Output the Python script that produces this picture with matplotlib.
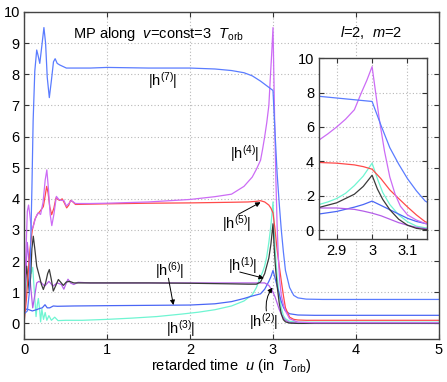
import matplotlib
matplotlib.use("Agg")
import matplotlib.pyplot as plt

plt.rcParams['font.family'] = ['Liberation Sans', 'DejaVu Sans']
plt.rcParams['mathtext.fontset'] = 'custom'
plt.rcParams['mathtext.rm'] = 'Liberation Sans'
plt.rcParams['mathtext.it'] = 'Liberation Sans:italic'

# ---- data (retarded time u in T_orb, |h^(k)|) ----
u7 = [0, 0.04, 0.065, 0.08, 0.095, 0.11, 0.13, 0.153, 0.17, 0.19, 0.21, 0.24, 0.26, 0.28, 0.305, 0.33, 0.355,
      0.375, 0.40, 0.43, 0.47, 0.51, 0.6, 0.8, 1.0, 1.5, 2.0, 2.3, 2.5, 2.65, 2.75, 2.85, 2.9, 2.95, 3.0,
      3.025, 3.05, 3.075, 3.1, 3.125, 3.15, 3.2, 3.25, 3.3, 3.4, 3.6, 5.0]
h7 = [0.3, 0.4, 1.0, 2.5, 4.3, 6.5, 8.1, 8.78, 8.6, 8.35, 8.8, 9.5, 9.0, 7.9, 7.25, 7.8, 8.4,
      8.5, 8.35, 8.3, 8.25, 8.2, 8.2, 8.2, 8.22, 8.2, 8.2, 8.17, 8.12, 8.05, 7.95, 7.78, 7.68, 7.58, 7.48,
      6.1, 4.8, 3.85, 3.0, 2.3, 1.7, 1.15, 0.9, 0.82, 0.78, 0.77, 0.77]

u4 = [0, 0.02, 0.04, 0.055, 0.07, 0.09, 0.11, 0.14, 0.17, 0.2, 0.23, 0.255, 0.275, 0.295, 0.315, 0.335,
      0.36, 0.39, 0.42, 0.45, 0.48, 0.51, 0.54, 0.57, 0.62, 0.8, 1.0, 1.5, 2.0, 2.3, 2.5, 2.65, 2.75, 2.8,
      2.85, 2.875, 2.9, 2.925, 2.95, 2.97, 2.985, 3.0, 3.01, 3.02, 3.035, 3.05, 3.065, 3.08, 3.1, 3.125,
      3.15, 3.2, 3.3, 3.5, 5.0]
h4 = [0, 2.0, 3.6, 3.8, 3.5, 3.0, 3.1, 3.4, 3.55, 3.5, 3.9, 4.6, 4.93, 4.3, 3.5, 3.14,
      3.5, 4.08, 3.98, 3.95, 3.95, 3.77, 3.85, 3.95, 3.85, 3.85, 3.86, 3.9, 3.98, 4.07, 4.15, 4.4, 4.7, 4.95,
      5.24, 5.6, 6.0, 6.45, 7.0, 8.0, 8.7, 9.5, 8.0, 6.5, 4.6, 3.1, 2.1, 1.4, 0.9, 0.6,
      0.4, 0.15, 0.04, 0.02, 0.02]

u5 = [0, 0.03, 0.05, 0.072, 0.1, 0.13, 0.16, 0.193, 0.233, 0.255, 0.273, 0.29, 0.31, 0.333, 0.36, 0.385,
      0.41, 0.43, 0.46, 0.49, 0.514, 0.54, 0.56, 0.59, 0.62, 0.8, 1.0, 1.5, 2.0, 2.5, 2.7, 2.8, 2.85, 2.9,
      2.95, 2.975, 3.0, 3.025, 3.05, 3.075, 3.1, 3.125, 3.15, 3.2, 3.25, 3.3, 3.4, 5.0]
h5 = [0, 0.8, 1.6, 2.37, 3.0, 3.33, 3.5, 3.6, 3.75, 4.1, 4.4, 4.2, 3.75, 3.49, 3.7, 4.03,
      3.98, 3.95, 4.0, 3.85, 3.71, 3.8, 3.95, 3.9, 3.82, 3.83, 3.84, 3.86, 3.87, 3.89, 3.9, 3.92, 3.94, 3.9,
      3.8, 3.7, 3.55, 3.0, 2.35, 1.85, 1.36, 0.9, 0.5, 0.2, 0.13, 0.11, 0.1, 0.1]

u1 = [0, 0.015, 0.032, 0.05, 0.064, 0.08, 0.095, 0.112, 0.13, 0.153, 0.185, 0.21, 0.233, 0.26, 0.285, 0.305,
      0.33, 0.353, 0.38, 0.414, 0.44, 0.474, 0.51, 0.55, 0.6, 0.8, 1.0, 1.5, 2.0, 2.5, 2.7, 2.8, 2.85, 2.9,
      2.95, 2.975, 3.0, 3.015, 3.03, 3.05, 3.075, 3.1, 3.125, 3.15, 3.2, 3.3, 5.0]
h1 = [0, 1.2, 1.84, 1.4, 1.0, 1.5, 2.4, 2.8, 2.4, 1.84, 1.52, 1.25, 1.09, 1.3, 1.6, 1.73,
      1.4, 1.04, 1.2, 1.41, 1.33, 1.22, 1.33, 1.35, 1.3, 1.3, 1.3, 1.3, 1.29, 1.27, 1.26, 1.26, 1.33, 1.6,
      2.1, 2.55, 3.2, 2.4, 1.8, 1.2, 0.65, 0.3, 0.12, 0.05, 0.01, 0.0, 0.0]

u6 = [0, 0.02, 0.04, 0.06, 0.08, 0.105, 0.13, 0.153, 0.18, 0.21, 0.25, 0.3, 0.35, 0.4, 0.45, 0.48, 0.51,
      0.53, 0.56, 0.6, 0.65, 0.8, 1.0, 1.5, 2.0, 2.5, 2.8, 2.85, 2.9, 2.95, 2.975, 3.0, 3.025, 3.05, 3.075,
      3.1, 3.125, 3.15, 3.2, 3.3, 5.0]
h6 = [0, 1.5, 2.6, 2.0, 1.2, 0.5, 0.9, 1.3, 1.35, 1.3, 1.2, 1.35, 1.2, 1.3, 1.25, 1.1, 1.3,
      1.42, 1.3, 1.25, 1.32, 1.3, 1.3, 1.3, 1.3, 1.3, 1.3, 1.3, 1.3, 1.22, 1.12, 1.0, 0.85, 0.65, 0.45,
      0.3, 0.18, 0.1, 0.03, 0.01, 0.0]

u2 = [0, 0.01, 0.03, 0.06, 0.1, 0.15, 0.19, 0.22, 0.253, 0.28, 0.31, 0.353, 0.4, 0.6, 1.0, 1.5, 2.0, 2.3,
      2.5, 2.65, 2.75, 2.85, 2.9, 2.95, 2.975, 3.0, 3.025, 3.05, 3.075, 3.1, 3.125, 3.15, 3.2, 3.3, 3.5, 5.0]
h2 = [0.3, 0.42, 0.46, 0.44, 0.4, 0.44, 0.48, 0.5, 0.6, 0.5, 0.5, 0.56, 0.55, 0.56, 0.57, 0.58, 0.59, 0.63,
      0.7, 0.8, 0.88, 0.95, 1.1, 1.35, 1.5, 1.7, 1.45, 1.2, 0.95, 0.7, 0.52, 0.4, 0.31, 0.27, 0.26, 0.26]

u3 = [0, 0.02, 0.04, 0.064, 0.085, 0.105, 0.12, 0.145, 0.16, 0.173, 0.19, 0.2, 0.215, 0.235, 0.255, 0.275,
      0.3, 0.33, 0.37, 0.41, 0.5, 0.7, 1.0, 1.3, 1.6, 1.9, 2.1, 2.3, 2.5, 2.65, 2.75, 2.8, 2.85, 2.875, 2.9,
      2.925, 2.95, 2.975, 3.0, 3.015, 3.03, 3.05, 3.075, 3.1, 3.125, 3.15, 3.2, 3.3, 5.0]
h3 = [0, 0.8, 1.5, 1.9, 1.6, 1.8, 1.2, 0.22, 0.6, 0.8, 0.4, 0.05, 0.46, 0.13, 0.35, 0.1,
      0.25, 0.1, 0.2, 0.09, 0.1, 0.1, 0.13, 0.17, 0.22, 0.3, 0.36, 0.44, 0.56, 0.72, 0.92, 1.15, 1.5, 1.65, 1.85,
      2.15, 2.6, 3.15, 3.9, 3.0, 2.2, 1.5, 0.9, 0.5, 0.25, 0.15, 0.07, 0.04, 0.04]

series = [
    (u3, h3, '#6ff5d2'),
    (u2, h2, '#4a66f5'),
    (u6, h6, '#b45ee8'),
    (u1, h1, '#3a3a3a'),
    (u5, h5, '#ff4a4a'),
    (u4, h4, '#cc6cf5'),
    (u7, h7, '#5a7cff'),
]

main_xticks = [0, 1, 2, 3, 4, 5]
main_yticks = list(range(0, 11))
inset_xticks = [2.9, 3.0, 3.1]
inset_xticklabels = ['2.9', '3', '3.1']
inset_yticks = [0, 2, 4, 6, 8, 10]

fig = plt.figure(figsize=(4.47, 3.82), dpi=100)
ax = fig.add_axes([0.0537, 0.1126, 0.9284, 0.856])
ins = fig.add_axes([0.7136, 0.3743, 0.2416, 0.4738])

grid_kw = dict(color='#b8b8b8', linestyle=(0, (1, 2)), linewidth=0.8)

for a in (ax, ins):
    for uu, hh, c in series:
        a.plot(uu, hh, color=c, lw=0.9)
    a.grid(True, **grid_kw)
    a.tick_params(direction='in', length=3.5, width=0.8, labelsize=10.5, top=True, right=True,
                  colors='#333333', labelcolor='black')
    for s in a.spines.values():
        s.set_color('#444444')
        s.set_linewidth(1.0)

ax.set_xlim(0, 5)
ax.set_ylim(-0.5, 10)
ax.set_xticks(main_xticks)
ax.set_yticks(main_yticks)
ax.tick_params(axis='both', pad=3)
ax.set_xlabel(r'retarded time  $u$ (in  $T_{\rm orb}$)', fontsize=10.5, labelpad=0)

ins.set_xlim(2.85, 3.155)
ins.set_ylim(-0.5, 10)
ins.set_xticks(inset_xticks)
ins.set_xticklabels(inset_xticklabels)
ins.set_yticks(inset_yticks)

fs = 10.5
ax.text(0.59, 9.3, r'MP along  $v$=const=3  $T_{\rm orb}$', fontsize=fs, va='center', ha='left')
ax.text(4.18, 9.33, r'$l$=2,  $m$=2', fontsize=fs, va='center', ha='center')

ax.text(1.67, 7.8, r'|h$^{(7)}$|', fontsize=fs, ha='center', va='center')
ax.text(2.66, 5.45, r'|h$^{(4)}$|', fontsize=fs, ha='center', va='center')
ax.text(2.56, 3.2, r'|h$^{(5)}$|', fontsize=fs, ha='center', va='center')
ax.text(2.63, 1.86, r'|h$^{(1)}$|', fontsize=fs, ha='center', va='center')
ax.text(2.89, 0.07, r'|h$^{(2)}$|', fontsize=fs, ha='center', va='center')
ax.text(1.76, 1.71, r'|h$^{(6)}$|', fontsize=fs, ha='center', va='center')
ax.text(1.89, -0.18, r'|h$^{(3)}$|', fontsize=fs, ha='center', va='center')

arrow_kw = dict(arrowstyle='-|>', color='black', lw=0.7, mutation_scale=7, shrinkA=0, shrinkB=0)
ax.annotate('', xy=(2.85, 3.89), xytext=(2.58, 3.5), arrowprops=arrow_kw)
ax.annotate('', xy=(2.89, 1.45), xytext=(2.6, 1.65), arrowprops=arrow_kw)
ax.annotate('', xy=(2.995, 1.15), xytext=(2.92, 0.4), arrowprops=dict(arrow_kw, connectionstyle='arc3,rad=-0.2'))
ax.annotate('', xy=(1.8, 0.59), xytext=(1.74, 1.45), arrowprops=arrow_kw)

fig.savefig('out.png', dpi=100)
